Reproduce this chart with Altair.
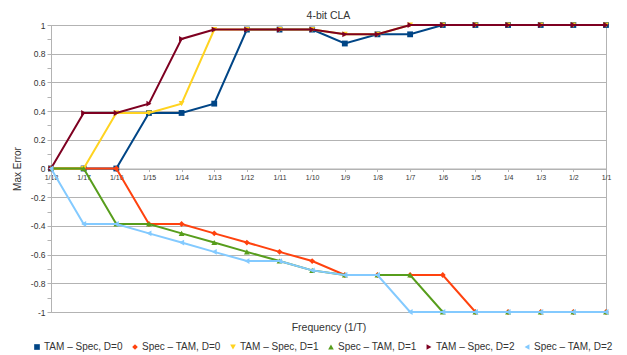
import altair as alt
import pandas as pd

cats = ["1/18", "1/17", "1/16", "1/15", "1/14", "1/13", "1/12", "1/11", "1/10",
        "1/9", "1/8", "1/7", "1/6", "1/5", "1/4", "1/3", "1/2", "1/1"]

series_names = ["TAM – Spec, D=0", "Spec – TAM, D=0", "TAM – Spec, D=1",
                "Spec – TAM, D=1", "TAM – Spec, D=2", "Spec – TAM, D=2"]
colors = ["#004586", "#ff420e", "#ffd320", "#579d1c", "#7e0021", "#83caff"]
shapes = ["square", "diamond", "triangle-down", "triangle-up", "triangle-right", "triangle-left"]

tam_spec_d0 = [0, 0, 0, 0.387, 0.387, 0.452, 0.968, 0.968, 0.968, 0.871, 0.935, 0.935, 1, 1, 1, 1, 1, 1]
spec_tam_d0 = [0, 0, 0, -0.387, -0.387, -0.452, -0.516, -0.581, -0.645, -0.742, -0.742, -0.742, -0.742, -1, -1, -1, -1, -1]
tam_spec_d1 = [0, 0, 0.387, 0.387, 0.452, 0.968, 0.968, 0.968, 0.968, 0.935, 0.935, 1, 1, 1, 1, 1, 1, 1]
spec_tam_d1 = [0, 0, -0.387, -0.387, -0.452, -0.516, -0.581, -0.645, -0.710, -0.742, -0.742, -0.742, -1, -1, -1, -1, -1, -1]
tam_spec_d2 = [0, 0.387, 0.387, 0.452, 0.903, 0.968, 0.968, 0.968, 0.968, 0.935, 0.935, 1, 1, 1, 1, 1, 1, 1]
spec_tam_d2 = [0, -0.387, -0.387, -0.452, -0.516, -0.581, -0.645, -0.645, -0.710, -0.742, -0.742, -1, -1, -1, -1, -1, -1, -1]

y_ticks = [-1, -0.9, -0.8, -0.7, -0.6, -0.5, -0.4, -0.3, -0.2, -0.1, 0,
           0.1, 0.2, 0.3, 0.4, 0.5, 0.6, 0.7, 0.8, 0.9, 1]

all_series = [tam_spec_d0, spec_tam_d0, tam_spec_d1, spec_tam_d1, tam_spec_d2, spec_tam_d2]
rows = []
for i, (name, vals) in enumerate(zip(series_names, all_series)):
    for c, v in zip(cats, vals):
        rows.append({"freq": c, "err": v, "series": name, "order": i})
df = pd.DataFrame(rows)

W, H = 555, 287
GRID = "#b3b3b3"
TXT = "#333333"
major = "abs(round(datum.value*10)) % 2 == 0"

legend = alt.Legend(
    title=None, orient="none", legendX=-19, legendY=317, direction="horizontal",
    columns=6, labelFontSize=10, labelColor=TXT, symbolSize=32, columnPadding=7,
    labelOffset=2, padding=0, symbolStrokeWidth=0, labelLimit=200,
)

color_enc = alt.Color("series:N", sort=series_names,
                      scale=alt.Scale(domain=series_names, range=colors), legend=legend)
shape_enc = alt.Shape("series:N", sort=series_names,
                      scale=alt.Scale(domain=series_names, range=shapes), legend=legend)

base = alt.Chart(df).encode(
    x=alt.X("freq:N", sort=cats, scale=alt.Scale(type="point", padding=0),
            axis=alt.Axis(title="Frequency  (1/T)", offset=-H / 2, labelFontSize=7,
                          labelColor=TXT, labelPadding=2, tickSize=3, tickColor=GRID,
                          domainColor=GRID, labelAngle=0, grid=False, titleFontSize=10.5,
                          titleFontWeight="normal", titleColor=TXT, titleY=159,
                          titleX=W / 2, titleBaseline="middle", labelOverlap=False)),
    y=alt.Y("err:Q", scale=alt.Scale(domain=[-1, 1], nice=False, zero=False),
            axis=alt.Axis(title="Max Error", values=y_ticks,
                          labelExpr=f"{major} ? toString(round(datum.value*10)/10) : ''",
                          labelFontSize=8.5, labelColor=TXT, labelPadding=2,
                          tickSize=4, tickColor=GRID, domainColor=GRID,
                          gridColor=GRID,
                          gridOpacity={"condition": {"test": major, "value": 1}, "value": 0},
                          titleFontSize=10, titleFontWeight="normal", titleColor=TXT,
                          titleX=-34, titleY=H / 2, titleAngle=-90, titleBaseline="middle",
                          titleAlign="center", labelOverlap=False)),
)

layers = []
for name in series_names:
    sub = base.transform_filter(alt.datum.series == name)
    layers.append(sub.mark_line(strokeWidth=2).encode(color=color_enc))
    layers.append(sub.mark_point(filled=True, size=34, opacity=1).encode(color=color_enc, shape=shape_enc))

chart = alt.layer(*layers).properties(
    width=W, height=H, autosize="none",
    padding={"left": 43, "top": 17, "right": 13, "bottom": 43},
    title=alt.TitleParams("4-bit CLA", fontSize=10.5, fontWeight="normal", color=TXT,
                          anchor="middle", offset=0),
).configure(font="Liberation Sans").configure_view(stroke=GRID)

chart.save("out.html", embed_options={"renderer": "svg", "actions": False})
